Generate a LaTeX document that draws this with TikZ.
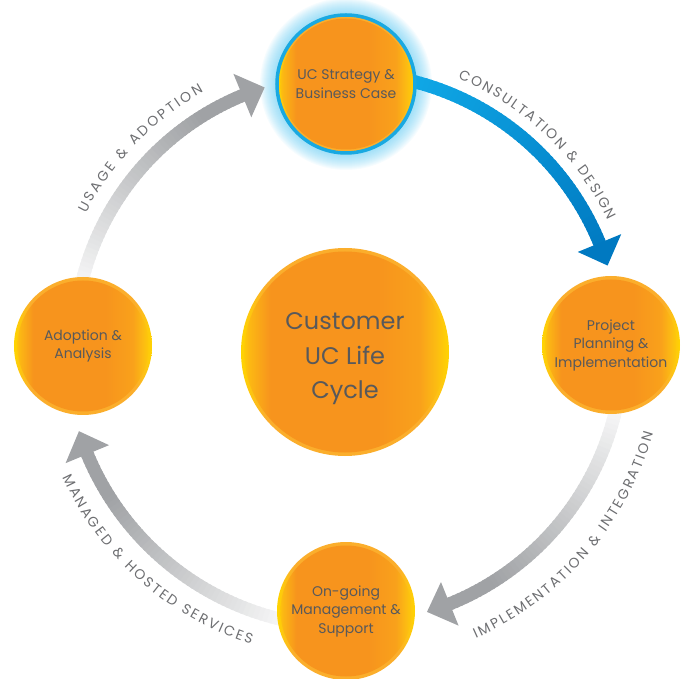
\documentclass[tikz,border=0pt]{standalone}
\usepackage{fontspec}
\setmainfont{Poppins}
\usetikzlibrary{decorations.text}
\definecolor{txtgray}{HTML}{58595B}
\definecolor{lblgray}{HTML}{6D6E71}
\definecolor{arrgray}{HTML}{A0A2A5}
\definecolor{blueA}{HTML}{12AEEB}
\definecolor{blueB}{HTML}{0079C1}
\definecolor{ringblue}{HTML}{19A9E1}
\definecolor{glowblue}{HTML}{5CC8F2}
\definecolor{oY}{HTML}{FFD400}
\definecolor{oYb}{HTML}{FCB813}
\definecolor{oO}{HTML}{F7941D}
\definecolor{oL}{HTML}{F9A11B}
\definecolor{oR}{HTML}{FCBD12}
\definecolor{rimC}{HTML}{FBAE2C}
\pgfdeclarehorizontalshading{orb}{100bp}{color(0bp)=(oY); color(25bp)=(oY); color(27bp)=(oYb); color(32bp)=(oO); color(58bp)=(oO); color(68bp)=(oL); color(72bp)=(oR); color(75bp)=(oY); color(100bp)=(oY)}
\pgfdeclarehorizontalshading{rim}{100bp}{color(0bp)=(oY); color(25bp)=(oY); color(31bp)=(rimC); color(69bp)=(rimC); color(75bp)=(oY); color(100bp)=(oY)}
\newfontfamily\lblfont{Poppins}
% gradient arc: radius, start angle, end angle, start colour, end colour, fraction at which the end colour is reached
\newcommand\gradarc[6]{%
  \foreach \i in {0,...,59}{%
    \pgfmathsetmacro\aa{#2+(#3-#2)*\i/60}%
    \pgfmathsetmacro\bb{#2+(#3-#2)*(\i+1.5)/60}%
    \pgfmathtruncatemacro\pp{min(100,\i*100/(60*#6))}%
    \draw[line width=13pt, #5!\pp!#4] (\aa:#1) arc[start angle=\aa, end angle=\bb, radius=#1];
  }}
% arrow head: radius, tip angle, colour
\newcommand\arrhead[3]{%
  \fill[#3] (#2:#1) -- ({#2+5}:{#1+23.5}) -- ({#2+5}:{#1-23.5}) -- cycle;}
\tikzset{
  orbnode/.style={circle, minimum size=138pt, inner sep=0pt, shade, shading=rim,
    align=center, text=txtgray, font=\fontsize{14}{18.5}\selectfont,
    path picture={\shade[shading=orb] (path picture bounding box.center) circle (65.5pt);}},
  bignode/.style={orbnode, minimum size=208pt,
    path picture={\shade[shading=orb] (path picture bounding box.center) circle (100.5pt);}},
  bigtext/.style={align=center, text=txtgray, font=\fontsize{24}{34.5}\selectfont},
  arclabel/.style={decorate, decoration={text along path, text align={fit to path},
    text color=lblgray, text={|\lblfont\fontsize{14}{14}\selectfont|#1}}}
}
\begin{document}
\begin{tikzpicture}[x=1pt,y=1pt]
\useasboundingbox (-346,-332) rectangle (336,347);
\coordinate (cT) at (0,263);
\coordinate (cR) at (265,2);
\coordinate (cB) at (0,-264);
\coordinate (cL) at (-263,1);
\coordinate (cC) at (-1,-5);
% glow behind the top circle
\foreach \k in {1,...,16}{\fill[glowblue, opacity=0.05] (cT) circle ({70+\k});}
% arrows
\gradarc{274}{84}{20.8}{blueA}{blueB}{1.0}
\arrhead{274}{17.3}{blueB}
\gradarc{277}{-8}{-69.5}{white}{arrgray}{0.8}
\arrhead{277}{-73}{arrgray}
\gradarc{280}{262}{201}{white}{arrgray}{0.8}
\arrhead{280}{197.5}{arrgray}
\gradarc{272}{172}{111}{white}{arrgray}{0.8}
\arrhead{272}{107.4}{arrgray}
% labels along the arcs
\path[arclabel={CONSULTATION {\&} DESIGN}] (67.4:291) arc[start angle=67.4, end angle=25.8, radius=291];
\path[arclabel={USAGE {\&} ADOPTION}] (152.8:292) arc[start angle=152.8, end angle=119.2, radius=292];
\path[arclabel={IMPLEMENTATION {\&} INTEGRATION}] (-66:319) arc[start angle=-66, end angle=-15.7, radius=319];
\path[arclabel={MANAGED {\&} HOSTED SERVICES}] (204.8:312) arc[start angle=204.8, end angle=252.3, radius=312];
% circles
\node[orbnode, draw=ringblue, line width=3.5pt] (top) at (cT) {UC Strategy \&\\Business Case};
\node[orbnode] (right) at (cR) {Project\\Planning \&\\Implementation};
\node[orbnode] (bottom) at (cB) {On-going\\Management \&\\Support};
\node[orbnode] (left) at (cL) {Adoption \&\\Analysis};
\node[bignode] (center) at (cC) {};
\node[bigtext] (centertext) at ([yshift=-7pt]center.center) {Customer\\UC Life\\Cycle};
\end{tikzpicture}
\end{document}
